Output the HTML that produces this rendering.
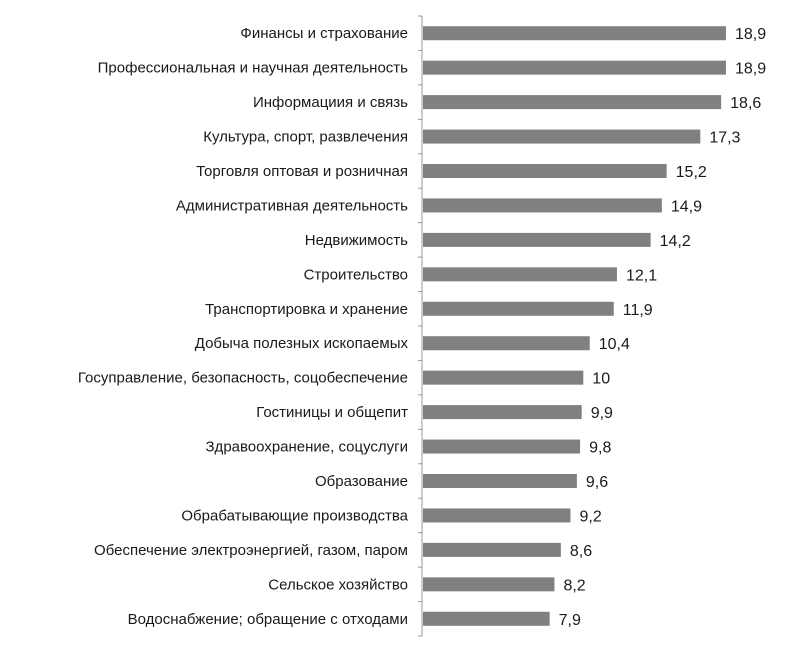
<!DOCTYPE html>
<html><head><meta charset="utf-8"><style>
body{margin:0;background:#fff;width:807px;height:641px;overflow:hidden}
svg text{font-family:"Liberation Sans",sans-serif;font-size:15px;fill:#1a1a1a}
</style></head><body>
<svg id="chart" width="807" height="641" xmlns="http://www.w3.org/2000/svg"></svg>
<script>
const categories=["Финансы и страхование","Профессиональная и научная деятельность","Информациия и связь","Культура, спорт, развлечения","Торговля оптовая и розничная","Административная деятельность","Недвижимость","Строительство","Транспортировка и хранение","Добыча полезных ископаемых","Госуправление, безопасность, соцобеспечение","Гостиницы и общепит","Здравоохранение, соцуслуги","Образование","Обрабатывающие производства","Обеспечение электроэнергией, газом, паром","Сельское хозяйство","Водоснабжение; обращение с отходами"];
const values=[18.9,18.9,18.6,17.3,15.2,14.9,14.2,12.1,11.9,10.4,10,9.9,9.8,9.6,9.2,8.6,8.2,7.9];
const valueLabels=["18,9","18,9","18,6","17,3","15,2","14,9","14,2","12,1","11,9","10,4","10","9,9","9,8","9,6","9,2","8,6","8,2","7,9"];
const svg=document.getElementById('chart');const NS="http://www.w3.org/2000/svg";
const x0=423,scale=16.03,plotTop=16,plotBottom=636,band=(plotBottom-plotTop)/categories.length,bh=14;
const xs=v=>x0+v*scale;
function mk(t,a){const e=document.createElementNS(NS,t);for(const k in a)e.setAttribute(k,a[k]);svg.appendChild(e);return e;}
const ax=mk('line',{x1:422,y1:plotTop,x2:422,y2:plotBottom,stroke:'#999','stroke-width':1});


for(let i=0;i<=categories.length;i++){const y=plotTop+i*band;
const t=mk('line',{x1:418,y1:y,x2:422,y2:y,stroke:'#999','stroke-width':1});

}
categories.forEach((c,i)=>{const cy=plotTop+band*(i+0.5);
const r=mk('rect',{x:x0,y:cy-bh/2,width:xs(values[i])-x0,height:bh,fill:'#808080'});


const l=mk('text',{x:408,y:cy+5,'text-anchor':'end'});l.textContent=c;


const v=mk('text',{x:xs(values[i])+9,y:cy+6});v.textContent=valueLabels[i];v.style.fontSize='16px';

});
</script>
</body></html>
